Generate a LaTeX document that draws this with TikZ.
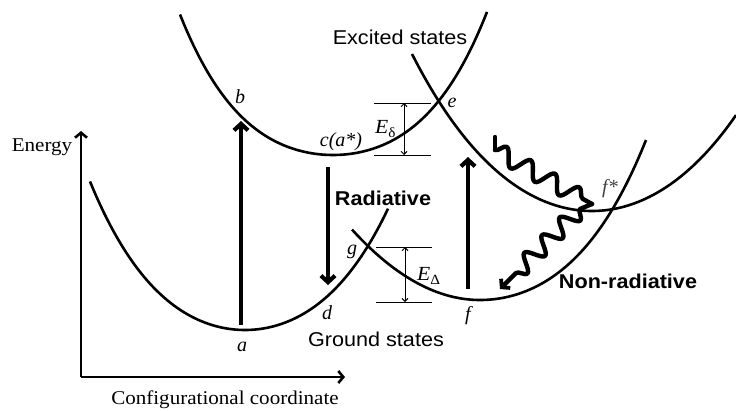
\documentclass[tikz,border=0pt]{standalone}
\usepackage{fontspec}
\usepackage{graphicx}
\setmainfont{Liberation Serif}
\setsansfont{Liberation Sans}
\usetikzlibrary{arrows.meta,decorations.pathmorphing}
\newcommand\sx[1]{\scalebox{1.08}[1]{#1}}
\begin{document}
\begin{tikzpicture}[x=1pt,y=-1pt,
  declare function={qa(\t)=37.8*\t*\t+9.5*\t*\t*\t*\t;
                    qb(\t)=42.3*\t*\t+1.9*\t*\t*\t*\t;
                    qc(\t)=45*\t*\t+7*\t*\t*\t*\t;
                    qdl(\t)=43*\t*\t;
                    qdr(\t)=40.7*\t*\t+6.3*\t*\t*\t*\t;},
  curve/.style={line width=2.6pt},
  bigarrow/.style={line width=4.8pt,-{Straight Barb[length=6.5pt,width=14pt,line width=4.2pt]}},
  axis/.style={line width=1.3pt,-{Straight Barb[length=5pt,width=12pt,line width=2.6pt]}},
  level/.style={line width=0.9pt},
  gap/.style={line width=0.9pt,{Straight Barb[length=3pt,width=6pt]}-{Straight Barb[length=3pt,width=6pt]}},
  serif/.style={font=\fontsize{19.5}{22}\selectfont, inner sep=0pt, anchor=base},
  sans/.style={font=\sffamily\fontsize{20}{22}\selectfont, inner sep=0pt, anchor=base},
  sansb/.style={font=\sffamily\bfseries\fontsize{20}{22}\selectfont, inner sep=0pt, anchor=base},
  lbl/.style={font=\itshape\fontsize{20}{22}\selectfont, inner sep=0pt, anchor=base},
  wavy/.style={line width=4.4pt, line join=round, line cap=round, decorate},
]
\useasboundingbox (0,0) rectangle (736,410);

% potential curves
\draw[curve] plot[domain=180:487, samples=90] (\x, {155 - qa((\x-333)/100)});
\draw[curve] plot[domain=412:736, samples=90] (\x, {211 - qb((\x-592)/100)});
\draw[curve] plot[domain=90:388, samples=90] (\x, {330 - qc((\x-245)/100)});
\draw[curve] plot[domain=352:480, samples=50] (\x, {300 - qdl((\x-480)/100)})
             -- plot[domain=480:646, samples=60] (\x, {300 - qdr((\x-480)/100)});

% axes
\coordinate (org) at (81,377);
\coordinate (ytip) at (81,131);
\coordinate (xtip) at (345,377);
\draw[axis] (org) -- (ytip);
\draw[axis] (org) -- (xtip);
\node[serif] (energy) at (42,151.5) {\sx{Energy}};
\node[serif] (cc) at (225,404) {\sx{Configurational coordinate}};

% energy gap markers
\coordinate (dtl) at (374,103); \coordinate (dtr) at (431,103);
\coordinate (dbl) at (374,155); \coordinate (dbr) at (431,155);
\coordinate (dat) at (404,103); \coordinate (dab) at (404,155);
\draw[level] (dtl) -- (dtr);
\draw[level] (dbl) -- (dbr);
\draw[gap] (dat) -- (dab);
\node[font=\fontsize{20}{22}\selectfont, inner sep=0pt, anchor=base west] (Ed) at (375,133)
  {\sx{\textit{E}\raisebox{-4.5pt}{\fontsize{14}{14}\selectfont δ}}};

\coordinate (Dtl) at (376,247); \coordinate (Dtr) at (432,247);
\coordinate (Dbl) at (376,302); \coordinate (Dbr) at (432,302);
\coordinate (Dat) at (405,247); \coordinate (Dab) at (405,302);
\draw[level] (Dtl) -- (Dtr);
\draw[level] (Dbl) -- (Dbr);
\draw[gap] (Dat) -- (Dab);
\node[font=\fontsize{20}{22}\selectfont, inner sep=0pt, anchor=base west] (ED) at (417,280)
  {\sx{\textit{E}\raisebox{-4.5pt}{\fontsize{14}{14}\selectfont Δ}}};

% transitions
\coordinate (pa) at (241,325); \coordinate (pb) at (241,121);
\draw[bigarrow] (pa) -- (pb);
\coordinate (pc) at (328,167); \coordinate (pd) at (328,285);
\draw[bigarrow] (pc) -- (pd);
\coordinate (pf) at (468,289); \coordinate (pe) at (468,157);
\draw[bigarrow] (pf) -- (pe);

% non-radiative path
\coordinate (w0) at (495,137);
\coordinate (w1) at (495,150);
\coordinate (w2) at (592,204);
\coordinate (w2b) at (580,209);
\coordinate (w3) at (500,289);
\draw[line width=4.4pt, line cap=round] (w0) -- (w1);
\draw[wavy, decoration={snake, amplitude=8.5pt, segment length=27.7pt}] (w1) -- (w2);
\draw[line width=4.4pt, line cap=round] (w2) -- (w2b);
\draw[wavy, line cap=butt, decoration={snake, amplitude=8.5pt, segment length=25pt, post length=13pt},
      -{Straight Barb[length=5.5pt,width=13pt,line width=3.8pt]}] (w2b) -- (w3);

% labels
\node[sans] (exc) at (400,44) {\sx{Excited states}};
\node[sans] (gnd) at (376,346) {\sx{Ground states}};
\node[sansb] (rad) at (383,205) {\sx{Radiative}};
\node[sansb] (nrad) at (628,288) {\sx{Non-radiative}};
\node[lbl] (lb) at (240,103) {b};
\node[lbl] (lc) at (341,146.5) {c(a*)};
\node[lbl] (le) at (452,107) {e};
\node[lbl] (la) at (242,351) {a};
\node[lbl] (ld) at (327,319) {d};
\node[lbl] (lg) at (352,254) {g};
\node[lbl] (lf) at (468,320) {f};
\node[lbl, text=black!75] (lfs) at (610,193) {f*};
\end{tikzpicture}
\end{document}
